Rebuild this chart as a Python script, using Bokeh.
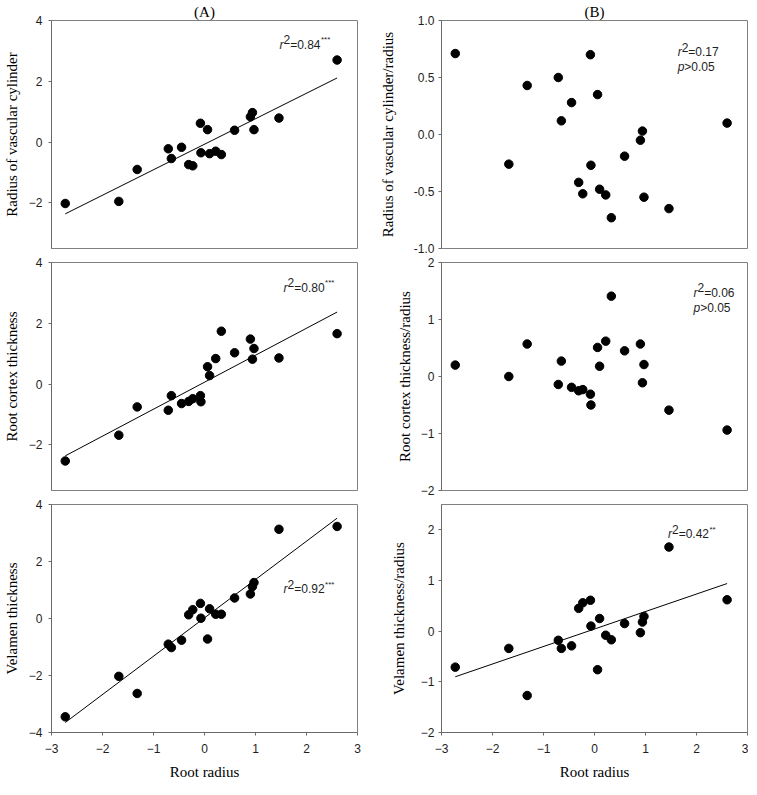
from bokeh.plotting import figure
from bokeh.models import Range1d, FixedTicker, Label, PrintfTickFormatter
from bokeh.layouts import column, row
from bokeh.embed import file_html
from bokeh.resources import INLINE

# ---------------- data ----------------
root_radius = [-2.73, -1.68, -1.32, -0.71, -0.65, -0.45, -0.31, -0.23, -0.08, -0.07,
               0.06, 0.10, 0.22, 0.33, 0.59, 0.90, 0.94, 0.97, 1.46, 2.60]
vascular_cylinder = [-2.02, -1.95, -0.90, -0.22, -0.54, -0.17, -0.74, -0.78, 0.62, -0.35,
                     0.41, -0.38, -0.30, -0.41, 0.39, 0.83, 0.97, 0.41, 0.79, 2.70]
cortex_thickness = [-2.53, -1.68, -0.75, -0.86, -0.38, -0.64, -0.57, -0.48, -0.38, -0.58,
                    0.57, 0.28, 0.84, 1.74, 1.03, 1.48, 0.82, 1.17, 0.86, 1.66]
velamen_thickness = [-3.45, -2.03, -2.63, -0.90, -1.02, -0.76, 0.13, 0.31, 0.53, 0.01,
                     -0.72, 0.34, 0.15, 0.15, 0.72, 0.86, 1.12, 1.26, 3.13, 3.23]
vascular_ratio = [0.71, -0.26, 0.43, 0.50, 0.12, 0.28, -0.42, -0.52, 0.70, -0.27,
                  0.35, -0.48, -0.53, -0.73, -0.19, -0.05, 0.03, -0.55, -0.65, 0.10]
cortex_ratio = [0.20, 0.00, 0.57, -0.14, 0.27, -0.19, -0.25, -0.23, -0.31, -0.50,
                0.51, 0.18, 0.62, 1.41, 0.45, 0.57, -0.11, 0.21, -0.59, -0.94]
velamen_ratio = [-0.71, -0.34, -1.27, -0.18, -0.34, -0.29, 0.45, 0.56, 0.61, 0.10,
                 -0.76, 0.25, -0.08, -0.17, 0.15, -0.03, 0.18, 0.29, 1.66, 0.62]

# regression line end values (at min and max root radius)
vascular_fit = [-2.36, 2.11]
cortex_fit = [-2.36, 2.37]
velamen_fit = [-3.65, 3.52]
velamen_ratio_fit = [-0.90, 0.94]

x_ticks = [-3, -2, -1, 0, 1, 2, 3]

SANS = "Liberation Sans"
SERIF = "Liberation Serif"
TXT = "#1e1e1e"


def panel(ys, ylim, yticks, ylabel, left, title=None, top=False, bottom=False,
          label_standoff=6, fmt=None):
    kw = dict(frame_width=306, frame_height=228,
              x_range=Range1d(-3, 3), y_range=Range1d(*ylim),
              output_backend="svg", toolbar_location=None,
              min_border_left=44 if left else 74,
              min_border_right=10 if left else 1,
              min_border_top=17 if top else 7,
              min_border_bottom=50 if bottom else 7)
    if not bottom:
        kw["x_axis_location"] = None
    if title:
        kw["title"] = title
    p = figure(**kw)
    p.grid.visible = False
    p.outline_line_color = "#808080"
    p.outline_line_width = 1
    p.background_fill_color = "white"
    p.border_fill_color = "white"
    if title:
        p.title.align = "center"
        p.title.text_font = SERIF
        p.title.text_font_size = "15px"
        p.title.text_font_style = "normal"
        p.title.text_color = "black"
        p.title.standoff = 2
    for ax in p.axis:
        ax.axis_line_color = "#6a6a6a"
        ax.major_tick_line_color = "#6a6a6a"
        ax.major_tick_out = 3
        ax.major_tick_in = 0
        ax.minor_tick_line_color = None
        ax.major_label_text_font = SANS
        ax.major_label_text_font_size = "12px"
        ax.major_label_text_color = TXT
        ax.axis_label_text_font = SERIF
        ax.axis_label_text_font_size = "15px"
        ax.axis_label_text_font_style = "normal"
        ax.axis_label_text_color = "black"
    p.yaxis.ticker = FixedTicker(ticks=yticks)
    p.yaxis.axis_label = ylabel
    p.yaxis.major_label_standoff = 6 if left else 4
    p.yaxis.axis_label_standoff = label_standoff
    if fmt:
        p.yaxis.formatter = PrintfTickFormatter(format=fmt)
    if bottom:
        p.xaxis.ticker = FixedTicker(ticks=x_ticks)
        p.xaxis.axis_label = "Root radius"
        p.xaxis.major_label_standoff = 8
        p.xaxis.axis_label_standoff = 8
    p.scatter(root_radius, ys, size=8.5, color="black")
    return p


def add_line(p, fit):
    p.line([min(root_radius), max(root_radius)], fit, line_color="black", line_width=1)


def lab(p, x, y, text, dx=0, dy=0, size="12px", style="normal"):
    p.add_layout(Label(x=x, y=y, x_offset=dx, y_offset=dy, text=text,
                       text_font=SANS, text_font_size=size, text_font_style=style,
                       text_color=TXT, text_baseline="alphabetic", text_align="left"))


def r2(p, x, y, val, stars=""):
    lab(p, x, y, "r", style="italic")
    lab(p, x, y, "2", dx=4, dy=5)
    lab(p, x, y, "=" + val, dx=10.7)
    if stars:
        lab(p, x, y, stars, dx=41.5, dy=5, size="8px")


def pval(p, x, y, txt):
    lab(p, x, y, "p", style="italic")
    lab(p, x, y, txt, dx=6.7)


# ---------------- panels ----------------
pA1 = panel(vascular_cylinder, (-3.5, 4), [-2, 0, 2, 4], "Radius of vascular cylinder",
            True, title="(A)", top=True)
add_line(pA1, vascular_fit)
r2(pA1, 1.47, 3.2, "0.84", "***")

pB1 = panel(vascular_ratio, (-1, 1), [-1, -0.5, 0, 0.5, 1], "Radius of vascular cylinder/radius",
            False, title="(B)", top=True, label_standoff=15, fmt="%.1f")
r2(pB1, 1.63, 0.72, "0.17")
pval(pB1, 1.63, 0.59, ">0.05")

pA2 = panel(cortex_thickness, (-3.5, 4), [-2, 0, 2, 4], "Root cortex thickness", True)
add_line(pA2, cortex_fit)
r2(pA2, 1.55, 3.17, "0.80", "***")

pB2 = panel(cortex_ratio, (-2, 2), [-2, -1, 0, 1, 2], "Root cortex thickness/radius",
            False, label_standoff=5)
r2(pB2, 1.94, 1.47, "0.06")
pval(pB2, 1.94, 1.20, ">0.05")

pA3 = panel(velamen_thickness, (-4, 4), [-4, -2, 0, 2, 4], "Velamen thickness", True, bottom=True)
add_line(pA3, velamen_fit)
r2(pA3, 1.55, 1.03, "0.92", "***")

pB3 = panel(velamen_ratio, (-2, 2.5), [-2, -1, 0, 1, 2], "Velamen thickness/radius",
            False, bottom=True, label_standoff=11)
add_line(pB3, velamen_ratio_fit)
r2(pB3, 1.44, 1.91, "0.42", "**")

layout = column(row(pA1, pB1), row(pA2, pB2), row(pA3, pB3))

open("out.html", "w").write(file_html(layout, INLINE))
